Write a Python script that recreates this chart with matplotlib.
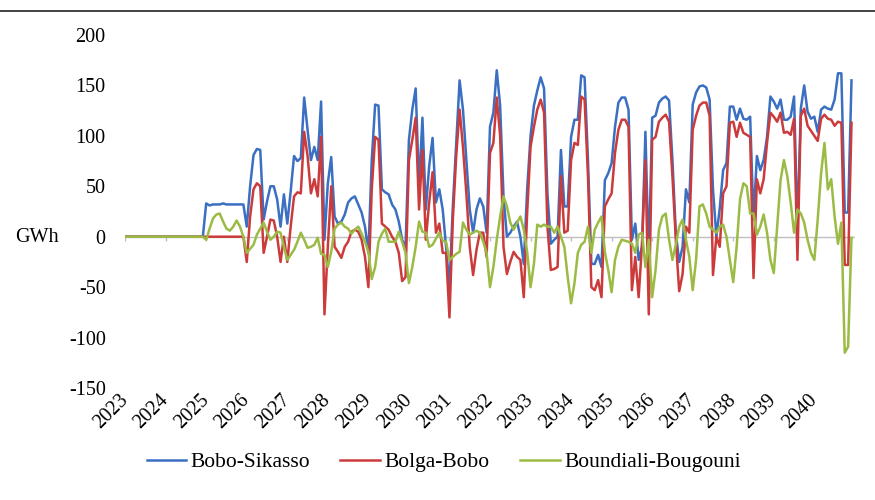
import matplotlib
matplotlib.use('Agg')  # Non-interactive backend

import matplotlib.pyplot as plt
from matplotlib.lines import Line2D
import numpy as np

# ==================== DATA (monthly GWh, Jan 2023 - Dec 2040) ====================

years = list(range(2023, 2041))

bobo_sikasso = (
    [0] * 24
    + [33, 31, 32, 32, 32, 33, 32, 32, 32, 32, 32, 32]
    + [10, 50, 81, 87, 86, 17, 35, 50, 50, 37, 10, 42]
    + [13, 45, 80, 75, 78, 138, 106, 76, 89, 76, 134, -3]
    + [53, 79, 20, 13, 15, 22, 34, 38, 40, 32, 24, 10]
    + [-16, 76, 131, 130, 47, 44, 42, 32, 27, 15, -3, -10]
    + [96, 126, 147, 50, 118, 27, 70, 98, 34, 47, 27, -10]
    + [-50, 30, 93, 155, 126, 76, 27, 4, 27, 38, 30, 4]
    + [109, 123, 165, 130, 40, 0, 4, 10, 15, 0, -27, 47]
    + [100, 130, 145, 158, 147, 43, -7, -3, 0, 86, 30, 30]
    + [99, 116, 116, 160, 158, 76, -27, -27, -18, -30, 56, 63]
    + [73, 109, 133, 138, 138, 126, -3, 13, -23, -10, 104, -23]
    + [118, 120, 133, 137, 139, 135, 76, 4, -25, -10, 47, 34]
    + [131, 143, 149, 150, 148, 136, 47, 0, 28, 66, 73, 129]
    + [129, 116, 127, 117, 116, 119, 17, 80, 66, 76, 99, 139]
    + [134, 127, 136, 116, 116, 119, 139, 7, 127, 150, 124, 117]
    + [119, 104, 126, 129, 127, 126, 136, 162, 162, 24, 24, 155]
)

bolga_bobo = (
    [0] * 36
    + [-25, 20, 47, 53, 50, -16, 0, 17, 16, 0, -25, 0]
    + [-25, 10, 40, 44, 43, 104, 80, 43, 57, 40, 99, -77]
    + [-10, 50, -10, -15, -21, -10, -5, 5, 7, 5, -3, -20]
    + [-50, 47, 99, 96, 13, 10, 7, 0, -5, -16, -44, -40]
    + [76, 96, 118, 27, 86, -3, 34, 64, 4, 13, -16, -16]
    + [-80, 17, 80, 126, 89, 43, -10, -38, -13, 4, 4, -20]
    + [83, 93, 138, 100, -10, -37, -25, -15, -20, -23, -60, 24]
    + [89, 109, 126, 136, 123, 10, -33, -32, -30, 60, 4, 6]
    + [76, 93, 91, 139, 136, 60, -50, -53, -43, -60, 30, 37]
    + [43, 83, 106, 116, 116, 109, -53, -20, -60, -7, 76, -77]
    + [96, 99, 114, 118, 121, 114, 60, -3, -54, -37, 10, 4]
    + [106, 120, 130, 133, 133, 120, -38, 0, -10, 43, 50, 113]
    + [114, 99, 113, 103, 101, 99, -41, 57, 43, 57, 93, 123]
    + [119, 114, 123, 103, 104, 101, 117, -23, 120, 127, 110, 105]
    + [100, 95, 117, 121, 117, 116, 110, 114, 113, -28, -28, 113]
)

boundiali_bougouni = (
    [0] * 24
    + [-3, 8, 18, 22, 23, 15, 8, 6, 10, 16, 10, 0]
    + [-16, -12, -8, 2, 8, 14, 5, -3, 0, 5, 4, -10]
    + [-23, -18, -13, -5, 4, -3, -11, -10, -8, -1, -17, -18]
    + [-30, -15, 8, 12, 14, 10, 8, 3, 7, 10, 3, -5]
    + [-15, -42, -30, -5, 3, 8, -5, -5, -5, 5, -5, -16]
    + [-46, -30, -10, 15, 5, 4, -10, -8, -2, 4, -4, -5]
    + [-23, -20, -17, -15, 14, 7, 2, 4, 6, 4, -5, -16]
    + [-50, -30, -3, 20, 40, 30, 14, 7, 14, 20, 7, -15]
    + [-50, -27, 12, 10, 12, 10, 10, 4, 10, 0, -10, -40]
    + [-66, -46, -16, -8, -5, 10, -16, 7, 14, 20, -15, -33]
    + [-55, -23, -10, -3, -4, -5, -7, -16, 2, 4, -30, -3]
    + [-60, -33, 7, 20, 23, -3, -23, -8, 10, 17, -3, -20]
    + [-53, -23, 30, 32, 23, 10, 7, 4, 10, 12, 0, -23]
    + [-45, -10, 37, 53, 50, 23, 23, 2, 10, 22, 4, -23]
    + [-36, 10, 56, 76, 60, 34, 4, 27, 23, 14, -3, -16]
    + [-23, 17, 63, 93, 47, 57, 20, -7, 14, -115, -109, -1]
)

series = [
    ('Bobo-Sikasso', bobo_sikasso, '#3A6FC2'),
    ('Bolga-Bobo', bolga_bobo, '#CC3B3B'),
    ('Boundiali-Bougouni', boundiali_bougouni, '#9BBB45'),
]

# ==================== FIGURE ====================

plt.rcParams['font.family'] = ['Liberation Serif', 'DejaVu Serif']
plt.rcParams['font.size'] = 14.5
plt.rcParams['axes.unicode_minus'] = False

fig = plt.figure(figsize=(8.75, 5), dpi=100)
ax = fig.add_axes([0.143, 0.224, 0.834, 0.706])

months = np.arange(len(bobo_sikasso))
for name, values, color in series:
    ax.plot(months, values, color=color, linewidth=1.8, label=name)

# zero line with small year ticks (category axis crossing at 0)
ax.axhline(0, color='#BFBFBF', linewidth=1, zorder=0)
year_pos = np.arange(len(years)) * 12
ax.vlines(year_pos, -4, 0, color='#BFBFBF', linewidth=1, zorder=0)

ax.set_xlim(0, len(months))
ax.set_ylim(-150, 200)
ax.set_yticks(range(-150, 201, 50))
ax.set_xticks(year_pos)
ax.set_xticklabels([str(y) for y in years], rotation=45, ha='right',
                   va='center', rotation_mode='anchor')
ax.tick_params(axis='both', length=0, colors='#000000', labelsize=14.5)
ax.tick_params(axis='y', pad=14)
ax.tick_params(axis='x', pad=7)
for s in ax.spines.values():
    s.set_visible(False)

fig.text(0.017, 1 - 237 / 500, 'GWh', fontsize=14.5, va='center', ha='left')

# top rule
fig.add_artist(Line2D([0, 1], [0.978, 0.978], color='#222222', linewidth=1.2))

fig.legend(loc='center', bbox_to_anchor=(0.507, 0.076), ncol=3, frameon=False,
           fontsize=15.5, handlelength=1.85, handletextpad=0.2, columnspacing=1.4)

plt.savefig('out.png', dpi=100, facecolor='white')
plt.close()
